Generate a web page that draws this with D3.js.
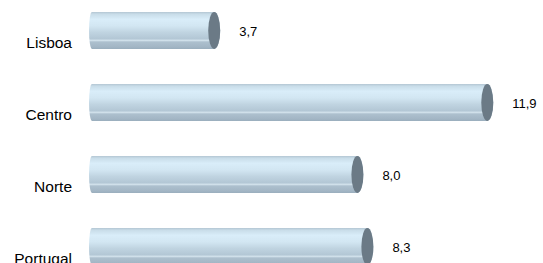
<!DOCTYPE html>
<html>
<head>
<meta charset="utf-8">
<script src="https://cdn.jsdelivr.net/npm/d3@7"></script>
<style>
  body { margin: 0; background: #fff; }
  svg { display: block; font-family: "Liberation Sans", Arial, sans-serif; }
</style>
</head>
<body>
<svg id="chart" width="543" height="263"></svg>
<script>
// data, top to bottom
const categories = ["Lisboa", "Centro", "Norte", "Portugal"];
const values = [3.7, 11.9, 8.0, 8.3];
const valueLabels = ["3,7", "11,9", "8,0", "8,3"];

const svg = d3.select("#chart");

// zero sits at x=91, 33.3 px per unit
const x = d3.scaleLinear().domain([0, 12]).range([91, 91 + 12 * 33.3]);
const y = d3.scaleBand().domain(categories).range([-5.5, 282.5]).paddingInner(0.486).paddingOuter(0.243);

const barH = y.bandwidth();
const capRx = 6;
const leftRx = 3;

// cylinder body gradient
const defs = svg.append("defs");
const grad = defs.append("linearGradient")
    .attr("id", "cyl")
    .attr("x1", 0).attr("y1", 0).attr("x2", 0).attr("y2", 1);
const stops = [
    [0, "#b4c6d3"],
    [0.06, "#c9dde9"],
    [0.2, "#d9edf9"],
    [0.38, "#d2e6f2"],
    [0.55, "#c0d4e1"],
    [0.72, "#b3c7d5"],
    [0.77, "#d0e0ea"],
    [0.81, "#adc0ce"],
    [0.94, "#a3b6c5"],
    [1, "#9aaebd"]
];
grad.selectAll("stop").data(stops).enter().append("stop")
    .attr("offset", d => d[0])
    .attr("stop-color", d => d[1]);

const bars = svg.selectAll(".bar")
    .data(categories.map((c, i) => ({ cat: c, v: values[i], label: valueLabels[i] })))
    .enter().append("g")
    .attr("class", "bar");

// body: slightly rounded left end, half-ellipse right end
bars.append("path")
    .attr("d", d => {
        const x0 = x(0) - 2, x1 = x(d.v), y0 = y(d.cat), ry = barH / 2;
        return `M${x0 + leftRx},${y0}` +
            `L${x1},${y0}` +
            `A${capRx},${ry} 0 0 1 ${x1},${y0 + barH}` +
            `L${x0 + leftRx},${y0 + barH}` +
            `A${leftRx},${ry} 0 0 1 ${x0 + leftRx},${y0}Z`;
    })
    .attr("fill", "url(#cyl)");

// end cap
bars.append("ellipse")
    .attr("cx", d => x(d.v))
    .attr("cy", d => y(d.cat) + barH / 2)
    .attr("rx", capRx)
    .attr("ry", barH / 2)
    .attr("fill", "#6b7a86");

// category labels
bars.append("text")
    .attr("x", 72)
    .attr("y", d => y(d.cat) + barH / 2 + 17.5)
    .attr("text-anchor", "end")
    .attr("font-size", "15.5px")
    .attr("fill", "#000")
    .text(d => d.cat);

// value labels
bars.append("text")
    .attr("x", d => x(d.v) + 25)
    .attr("y", d => y(d.cat) + barH / 2 + 5)
    .attr("font-size", "13px")
    .attr("fill", "#000")
    .text(d => d.label);
</script>
</body>
</html>
